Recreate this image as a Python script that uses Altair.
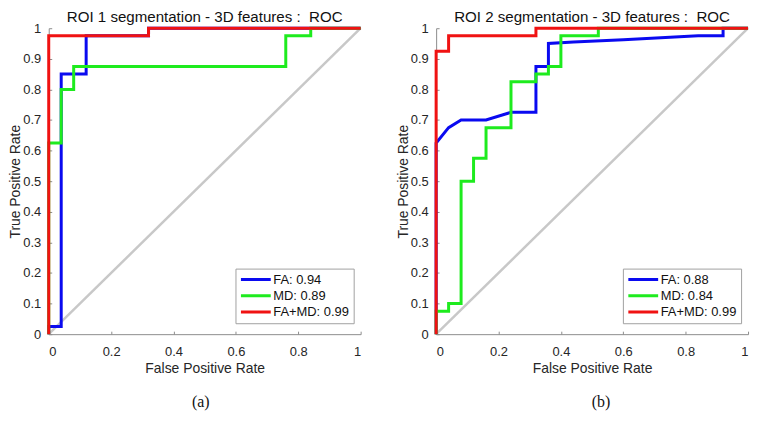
import altair as alt
import pandas as pd

FONT = "Liberation Sans, Arial, Helvetica, sans-serif"
SERIF = "Liberation Serif, Times New Roman, serif"
COLORS = ["#0A0AF0", "#1EEB1E", "#F01212"]

# ---- panel (a): ROI 1 ----
a_labels = ["FA: 0.94", "MD: 0.89", "FA+MD: 0.99"]
a_fa_x = [0, 0, 0.04, 0.04, 0.12, 0.12, 0.32, 0.32, 1]
a_fa_y = [0, 0.025, 0.025, 0.85, 0.85, 0.975, 0.975, 1, 1]
a_md_x = [0, 0, 0.04, 0.04, 0.08, 0.08, 0.76, 0.76, 0.84, 0.84, 1]
a_md_y = [0, 0.625, 0.625, 0.8, 0.8, 0.875, 0.875, 0.975, 0.975, 1, 1]
a_both_x = [0, 0, 0.32, 0.32, 1]
a_both_y = [0, 0.975, 0.975, 1, 1]

# ---- panel (b): ROI 2 ----
b_labels = ["FA: 0.88", "MD: 0.84", "FA+MD: 0.99"]
b_fa_x = [0, 0, 0.04, 0.08, 0.16, 0.24, 0.32, 0.32, 0.36, 0.36, 0.44, 0.6, 0.84, 0.92, 0.92, 1]
b_fa_y = [0, 0.625, 0.675, 0.7, 0.7, 0.725, 0.725, 0.875, 0.875, 0.95, 0.955, 0.962, 0.975, 0.975, 1, 1]
b_md_x = [0, 0, 0.04, 0.04, 0.08, 0.08, 0.12, 0.12, 0.16, 0.16, 0.24, 0.24, 0.32, 0.32,
          0.36, 0.36, 0.4, 0.4, 0.52, 0.52, 1]
b_md_y = [0, 0.075, 0.075, 0.1, 0.1, 0.5, 0.5, 0.575, 0.575, 0.675, 0.675, 0.825, 0.825, 0.85,
          0.85, 0.875, 0.875, 0.975, 0.975, 1, 1]
b_both_x = [0, 0, 0.04, 0.04, 0.32, 0.32, 1]
b_both_y = [0, 0.925, 0.925, 0.975, 0.975, 1, 1]

diag_x = [0, 1]
diag_y = [0, 1]

x_ticks = [0, 0.2, 0.4, 0.6, 0.8, 1]
y_ticks = [0, 0.1, 0.2, 0.3, 0.4, 0.5, 0.6, 0.7, 0.8, 0.9, 1]

W = 314
H = 308


def panel(title, labels, series, caption, cap_x):
    rows = []
    for lab, (xs, ys) in zip(labels, series):
        for i, (x, y) in enumerate(zip(xs, ys)):
            rows.append({"series": lab, "i": i, "fpr": x, "tpr": y})
    df = pd.DataFrame(rows)

    xenc = alt.X("fpr:Q", scale=alt.Scale(domain=[0, 1], nice=False),
                 axis=alt.Axis(values=x_ticks, format="~g", title="False Positive Rate",
                               labelPadding=14, titlePadding=4))
    yenc = alt.Y("tpr:Q", scale=alt.Scale(domain=[0, 1], nice=False),
                 axis=alt.Axis(values=y_ticks, format="~g", title="True Positive Rate",
                               labelPadding=11, titlePadding=0))
    color = alt.Color(
        "series:N",
        scale=alt.Scale(domain=labels, range=COLORS),
        legend=alt.Legend(
            title=None, orient="none", legendX=W - 126, legendY=H - 66,
            symbolType="stroke", symbolSize=900, symbolStrokeWidth=3,
            clipHeight=14, rowPadding=2.3, padding=4,
            strokeColor="#A0A0A0", fillColor="white",
            labelFont=FONT, labelFontSize=13, labelColor="#111111", labelOffset=1,
        ),
    )

    diag = alt.Chart(pd.DataFrame({"fpr": diag_x, "tpr": diag_y})).mark_line(
        color="#C8C8C8", strokeWidth=2.5
    ).encode(x=xenc, y=yenc)

    layers = [diag]
    for lab in labels:
        layers.append(
            alt.Chart(df[df["series"] == lab]).mark_line(strokeWidth=3, clip=False).encode(
                x=xenc, y=yenc, order=alt.Order("i:Q"), color=color
            )
        )
    cap = alt.Chart(pd.DataFrame({"t": [caption]})).mark_text(
        font=SERIF, fontSize=16, color="#111111"
    ).encode(x=alt.value(cap_x), y=alt.value(H + 68), text="t:N")
    layers.append(cap)

    return alt.layer(*layers).properties(
        width=W, height=H,
        title=alt.TitleParams(title, font=FONT, fontSize=15.2, fontWeight="normal",
                              color="#111111", offset=-3, frame="group"),
    )


left = panel("ROI 1 segmentation - 3D features :\u00a0 ROC", a_labels,
             [(a_fa_x, a_fa_y), (a_md_x, a_md_y), (a_both_x, a_both_y)], "(a)", 153)
right = panel("ROI 2 segmentation - 3D features :\u00a0 ROC", b_labels,
              [(b_fa_x, b_fa_y), (b_md_x, b_md_y), (b_both_x, b_both_y)], "(b)", 166)

chart = alt.hconcat(left, right, spacing=29).resolve_scale(color="independent").properties(
    padding={"left": 0, "top": 0, "right": 0, "bottom": 0}
).configure_view(stroke=None).configure_axis(
    grid=False,
    domainColor="#8C8C8C", domainWidth=1,
    tickColor="#8C8C8C", tickSize={"expr": "-3"},
    labelFont=FONT, labelFontSize=13, labelColor="#262626",
    titleFont=FONT, titleFontSize=14, titleFontWeight="normal", titleColor="#262626",
)

chart.save("out.html", embed_options={"renderer": "svg", "actions": False})
